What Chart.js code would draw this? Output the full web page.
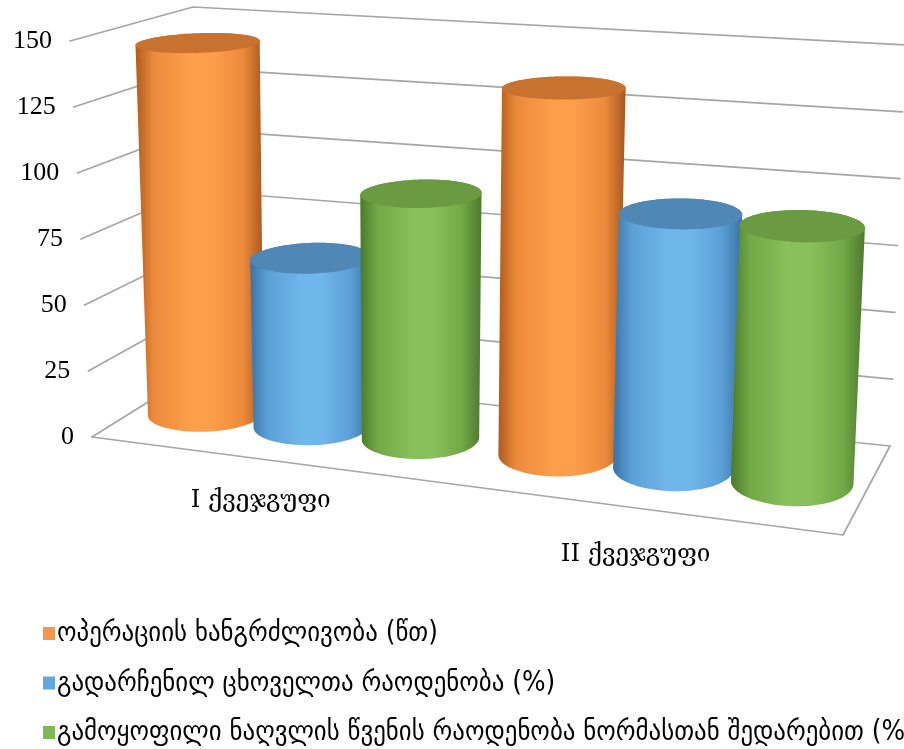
<!DOCTYPE html>
<html>
<head>
<meta charset="utf-8">
<script src="https://cdn.jsdelivr.net/npm/chart.js@4.4.1/dist/chart.umd.min.js"></script>
<style>
html,body{margin:0;padding:0;background:#ffffff;}
#wrap{width:904px;height:749px;position:relative;}
</style>
</head>
<body>
<div id="wrap"><canvas id="c" width="904" height="749"></canvas></div>
<script>
// ---------------- data ----------------
const categories = ['I ქვეჯგუფი', 'II ქვეჯგუფი'];
const seriesNames = [
  'ოპერაციის ხანგრძლივობა (წთ)',
  'გადარჩენილ ცხოველთა რაოდენობა (%)',
  'გამოყოფილი ნაღვლის წვენის რაოდენობა ნორმასთან შედარებით (%)'
];
const operationDuration = [144, 135];
const survivedAnimals = [64, 92];
const bileAmount = [92, 91];
const yTicks = [0, 25, 50, 75, 100, 125, 150];

// ---------------- styles ----------------
const seriesColors = ['#F79646', '#62A8E0', '#7DB956'];
const cylStyles = [
  {edge:'#b05a1c', mid:'#ec8a3b', peak:'#fd9e4b', edge2:'#a9561b', top:'#c8722f'},
  {edge:'#3a73a6', mid:'#5b9fd6', peak:'#6fb6ea', edge2:'#3b72a3', top:'#4f87b6'},
  {edge:'#4a7a2b', mid:'#72a847', peak:'#88c05b', edge2:'#4b7a2c', top:'#6a9a41'}
];
// perspective frame (u: along categories, t: value fraction, z: depth 0 front -> 1 back)
const frame = {
  c000:[92,437], c010:[70,41], c001:[193,374], c011:[193,7],
  c100:[843,535], c110:[868,84], c101:[890,446], c111:[905,45]
};
const persp = 0.916, depthR = 0.27, zMid = 0.5;
const gridColor = '#a6a6a6';

function lerp(a,b,t){return [a[0]+(b[0]-a[0])*t, a[1]+(b[1]-a[1])*t];}
function warpU(u){return persp*u/(1+(persp-1)*u);}
function proj(u,t,z){
  const up = warpU(u);
  const a = lerp(frame.c000, frame.c100, up), b = lerp(frame.c010, frame.c110, up);
  const c = lerp(frame.c001, frame.c101, up), d = lerp(frame.c011, frame.c111, up);
  return lerp(lerp(a,b,t), lerp(c,d,t), z);
}
function hull(pts){
  pts = pts.slice().sort((a,b)=>a[0]-b[0]||a[1]-b[1]);
  const cross=(o,a,b)=>(a[0]-o[0])*(b[1]-o[1])-(a[1]-o[1])*(b[0]-o[0]);
  const lo=[],up=[];
  for(const p of pts){while(lo.length>=2&&cross(lo[lo.length-2],lo[lo.length-1],p)<=0)lo.pop();lo.push(p);}
  for(let i=pts.length-1;i>=0;i--){const p=pts[i];while(up.length>=2&&cross(up[up.length-2],up[up.length-1],p)<=0)up.pop();up.push(p);}
  up.pop();lo.pop();return lo.concat(up);
}
function fitFont(ctx, text, family, base, target){
  ctx.font = base+'px '+family;
  const w = ctx.measureText(text).width;
  return base*target/w;
}

const scene = {
  id:'scene3d',
  beforeDatasetsDraw(chart){
    const ctx = chart.ctx, xs = chart.scales.x, ys = chart.scales.y;
    const tv = v => (ys.bottom - ys.getPixelForValue(v))/(ys.bottom - ys.top);
    const ux = px => (px - xs.left)/xs.width;
    ctx.save();
    // walls & floor
    ctx.strokeStyle = gridColor; ctx.lineWidth = 1.7; ctx.lineJoin='round'; ctx.lineCap='round';
    const poly = (pts)=>{ctx.beginPath();pts.forEach((p,i)=>i?ctx.lineTo(p[0],p[1]):ctx.moveTo(p[0],p[1]));ctx.stroke();};
    ys.ticks.forEach(tk=>{const t=tv(tk.value); poly([proj(0,t,0),proj(0,t,1),proj(1,t,1)]);});
    poly([proj(0,0,0),proj(1,0,0),proj(1,0,1)]);
    // tick labels
    ctx.fillStyle='#000'; ctx.font='26px "Liberation Serif", "Times New Roman", serif';
    ctx.textAlign='right'; ctx.textBaseline='middle';
    ys.ticks.forEach(tk=>{const p=proj(0,tv(tk.value),0); ctx.fillText(tk.label, p[0]-18, p[1]);});
    // category labels
    const catFam = '"DejaVu Serif", serif';
    const catSize = fitFont(ctx, categories[0], catFam, 24, 140);
    ctx.font = catSize+'px '+catFam; ctx.textAlign='center'; ctx.textBaseline='middle';
    chart.data.labels.forEach((lab,i)=>{
      const u = ux(xs.getPixelForValue(i)); const up = warpU(u);
      const p = proj(u,0,0);
      ctx.fillText(lab, p[0]-7, p[1]+38+10*up);
    });
    // cylinders
    const items=[];
    chart.data.datasets.forEach((ds,di)=>{
      chart.getDatasetMeta(di).data.forEach((bar,i)=>{
        items.push({di, u:ux(bar.x), r:bar.width/2/xs.width, t:tv(ds.data[i])});
      });
    });
    items.sort((a,b)=>a.u-b.u);
    items.forEach(it=>{
      const N=120, bot=[], top=[];
      for(let k=0;k<N;k++){
        const a=2*Math.PI*k/N, u=it.u+it.r*Math.cos(a), z=zMid+depthR*Math.sin(a);
        bot.push(proj(u,0,z)); top.push(proj(u,it.t,z));
      }
      const h = hull(bot.concat(top));
      let mn=Infinity,mx=-Infinity; h.forEach(p=>{mn=Math.min(mn,p[0]);mx=Math.max(mx,p[0]);});
      const st=cylStyles[it.di];
      const g=ctx.createLinearGradient(mn,0,mx,0);
      g.addColorStop(0,st.edge); g.addColorStop(0.14,st.mid); g.addColorStop(0.42,st.peak);
      g.addColorStop(0.6,st.peak); g.addColorStop(0.84,st.mid); g.addColorStop(1,st.edge2);
      ctx.fillStyle=g; ctx.beginPath(); h.forEach((p,i)=>i?ctx.lineTo(p[0],p[1]):ctx.moveTo(p[0],p[1])); ctx.closePath(); ctx.fill();
      ctx.fillStyle=st.top; ctx.beginPath(); top.forEach((p,i)=>i?ctx.lineTo(p[0],p[1]):ctx.moveTo(p[0],p[1])); ctx.closePath(); ctx.fill();
    });
    // legend
    const legFam = '"DejaVu Sans Condensed", "DejaVu Sans", sans-serif';
    const legSize = fitFont(ctx, chart.data.datasets[0].label, legFam, 22, 381);
    ctx.font = legSize+'px '+legFam; ctx.textAlign='left'; ctx.textBaseline='middle';
    chart.data.datasets.forEach((ds,i)=>{
      const y = 634 + i*49.5;
      ctx.fillStyle = ds.backgroundColor; ctx.fillRect(43, y-7, 12, 13);
      ctx.fillStyle = '#000'; ctx.fillText(ds.label, 57, y);
    });
    ctx.restore();
    return false;
  }
};

new Chart(document.getElementById('c'), {
  type:'bar',
  data:{
    labels: categories,
    datasets:[
      {label:seriesNames[0], data:operationDuration, backgroundColor:seriesColors[0]},
      {label:seriesNames[1], data:survivedAnimals, backgroundColor:seriesColors[1]},
      {label:seriesNames[2], data:bileAmount, backgroundColor:seriesColors[2]}
    ]
  },
  options:{
    responsive:false, animation:false,
    layout:{padding:{left:100,right:20,top:20,bottom:200}},
    datasets:{bar:{categoryPercentage:0.93, barPercentage:0.99}},
    scales:{
      x:{display:false, offset:true},
      y:{display:false, min:0, max:150, ticks:{stepSize:25}, afterBuildTicks(s){s.ticks = yTicks.map(v=>({value:v}));}}
    },
    plugins:{legend:{display:false}, tooltip:{enabled:false}}
  },
  plugins:[scene]
});
</script>
</body>
</html>
